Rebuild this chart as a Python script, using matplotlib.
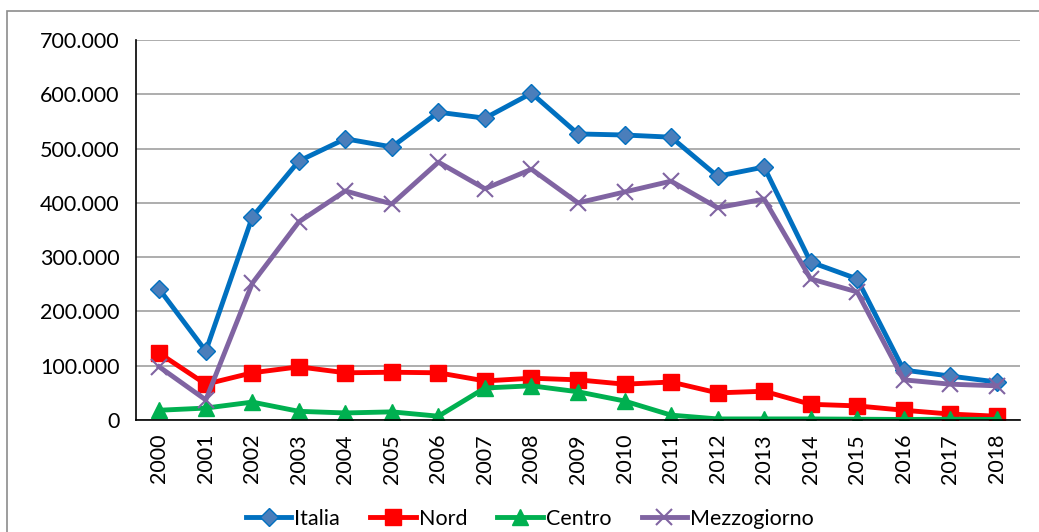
import matplotlib.pyplot as plt
from matplotlib.patches import Rectangle
from matplotlib.ticker import FuncFormatter

years = [str(y) for y in range(2000, 2019)]
italia = [241000, 127000, 374000, 477000, 518000, 503000, 567000, 556000, 602000, 527000,
          525000, 521000, 449000, 466000, 291000, 260000, 92000, 81000, 70000]
nord = [123000, 66000, 87000, 98000, 87000, 88000, 87000, 72000, 77000, 74000,
        66000, 70000, 50000, 53000, 29000, 26000, 18000, 11000, 7000]
centro = [18000, 22000, 33000, 16000, 13000, 15000, 7000, 59000, 63000, 52000,
          35000, 9000, 2000, 2000, 2000, 1500, 1000, 1500, 1000]
mezzogiorno = [98000, 37000, 252000, 365000, 422000, 398000, 475000, 426000, 462000, 400000,
               420000, 440000, 391000, 407000, 260000, 236000, 74000, 66000, 63000]

plt.rcParams['font.family'] = ['Lato', 'DejaVu Sans']

fig = plt.figure(figsize=(10.39, 5.32), dpi=100)
ax = fig.add_axes([0.1309, 0.2105, 0.8508, 0.7143])

fig.patches.append(Rectangle((0.007, -0.01), 1.0, 0.99, transform=fig.transFigure,
                             fill=False, edgecolor='#8c8c8c', linewidth=1.2))

x = range(len(years))
ax.plot(x, italia, color='#0070C0', lw=3.5, marker='D', ms=9,
        markerfacecolor='#4A7EBB', markeredgecolor='#0070C0', markeredgewidth=1, label='Italia')
ax.plot(x, nord, color='#FF0000', lw=3.5, marker='s', ms=11,
        markerfacecolor='#FF0000', markeredgecolor='#FF0000', label='Nord')
ax.plot(x, centro, color='#00B050', lw=3.5, marker='^', ms=11,
        markerfacecolor='#00B050', markeredgecolor='#00B050', label='Centro')
ax.plot(x, mezzogiorno, color='#8064A2', lw=3.5, marker='x', ms=11,
        markeredgecolor='#8064A2', markeredgewidth=1.5, label='Mezzogiorno')

ax.set_xlim(-0.5, len(years) - 0.5)
ax.set_ylim(0, 700000)
ax.set_yticks(range(0, 700001, 100000))
ax.yaxis.set_major_formatter(FuncFormatter(lambda v, p: '0' if v == 0 else f'{int(v):,}'.replace(',', '.')))
ax.set_xticks(list(x))
ax.set_xticklabels(years, rotation=90)
ax.tick_params(axis='both', length=0, labelsize=15.5, colors='black')
ax.tick_params(axis='y', pad=12)
ax.tick_params(axis='x', pad=10)

ax.grid(axis='y', color='#A0A0A0', lw=1.2)
ax.set_axisbelow(True)
for s in ['top', 'right']:
    ax.spines[s].set_visible(False)
ax.spines['left'].set_color('black')
ax.spines['bottom'].set_color('black')
ax.spines['left'].set_linewidth(1.2)
ax.spines['bottom'].set_linewidth(1.2)

fig.legend(loc='lower center', bbox_to_anchor=(0.51, -0.03), ncol=4, frameon=False,
           fontsize=15.5, handlelength=2.1, columnspacing=1.4, handletextpad=0.15)

fig.savefig('out.png', dpi=100)
